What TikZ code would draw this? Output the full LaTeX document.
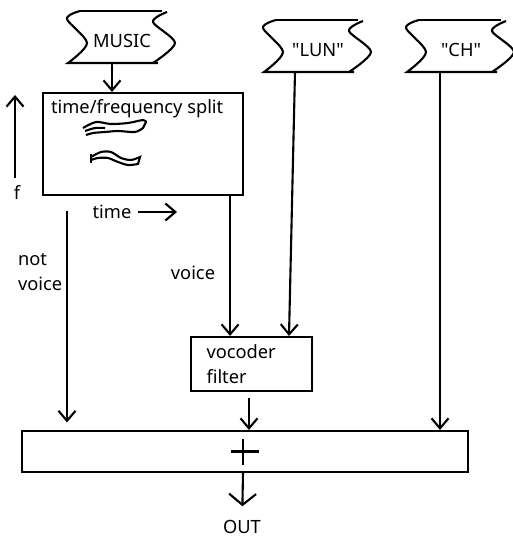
\documentclass[tikz,border=0pt]{standalone}
\usepackage{fontspec}
\setmainfont{Noto Sans}[Ligatures=TeXReset]
\usetikzlibrary{arrows.meta}

\tikzset{
  arr/.style={-{Straight Barb[length=2mm,width=3.4mm]}},
  bigarr/.style={-{Straight Barb[length=2.2mm,width=5.4mm]}},
  blk/.style={draw, inner sep=0pt},
  lbl/.style={inner sep=0pt},
}

\begin{document}
\begin{tikzpicture}[x=0.02cm, y=-0.02cm, line width=1.2pt, font=\fontsize{10.4}{14}\selectfont] %1 unit = 1px
\useasboundingbox (0,0) rectangle (512,537);

% tapes
\foreach \cx/\cy/\txt/\nm/\dx in {122/37/MUSIC/music/-10, 318/46/{"LUN"}/lun/-23, 461/46/{"CH"}/ch/-21} {
\begin{scope}[shift={(\cx,\cy)}]
\draw plot[smooth] coordinates {(-42,-26) (-55,-18) (-35,6) (-54,26)} -- (36,26);
\draw plot[smooth] coordinates {(31,26) (53,6) (31,-15) (45,-25)};
\draw (-42,-26) -- (40,-26);
\node[lbl] (\nm) at (0,4) {\txt};
\coordinate (\nm-o) at (\dx,26);
\end{scope}
}

% split box
\node[blk, minimum width=4cm, minimum height=2.04cm, anchor=north west] (split) at (42,92) {};
\node[lbl, anchor=west] (splittxt) at (50,109) {time/frequency split};
\draw plot[smooth] coordinates {(83,128) (96,122) (111,124) (128,123) (143,120) (146,122)}
  -- plot[smooth] coordinates {(143,128) (135,132) (118,131) (105,132) (93,133) (86,135)};
\draw plot[smooth] coordinates {(85,131) (95,128) (105,128)};
\draw (91,154) -- (91,163);
\draw plot[smooth] coordinates {(91,157) (101,152) (111,152) (121,158) (131,160) (140,157)}
  -- plot[smooth] coordinates {(138,164) (128,165) (118,162) (108,158) (98,158) (91,160)};

% axes
\node[lbl] (f) at (17,193) {f};
\coordinate (f-top) at (15,95);
\draw[arr] (f.north -| f-top) ++(0,-7) -- (f-top);
\node[lbl] (time) at (112,212) {time};
\coordinate (time-end) at (177,212);
\draw[arr] (time.east) ++(6,0) -- (time-end);

% vocoder and sum
\node[blk, minimum width=2.42cm, minimum height=1.08cm, text width=1.8cm, align=left] (voc) at (251.5,364) {vocoder\\filter};
\node[blk, minimum width=8.92cm, minimum height=0.82cm] (sum) at (245,451.5) {};
\draw (sum.center) ++(-14,0) -- ++(28,0);
\draw (sum.center) ++(-2,-13) -- ++(0,26);
\node[lbl] (out) at (242,527) {OUT};

% connectors
\draw[arr] (music-o) -- (music-o |- split.north);
\coordinate (v-top) at ([xshift=-0.28cm]split.south east);
\draw[arr] (v-top) -- (v-top |- voc.north);
\node[lbl] (voicetxt) at (193,273) {voice};
\coordinate (nv) at (67,211);
\draw[arr, shorten >=1.5mm] (nv) -- (nv |- sum.north);
\node[lbl, anchor=west, align=left] (nvtxt) at (17,272) {not\\voice};
\draw[arr] (lun-o) -- ([xshift=0.75cm]voc.north);
\draw[arr] (ch-o) -- (ch-o |- sum.north);
\draw[arr, shorten <=1.2mm] ([xshift=-0.05cm]voc.south) -- ([xshift=-0.05cm]voc.south |- sum.north);
\draw[bigarr, shorten >=2.6mm] ([xshift=-0.04cm]sum.south) -- (out);
\end{tikzpicture}
\end{document}
